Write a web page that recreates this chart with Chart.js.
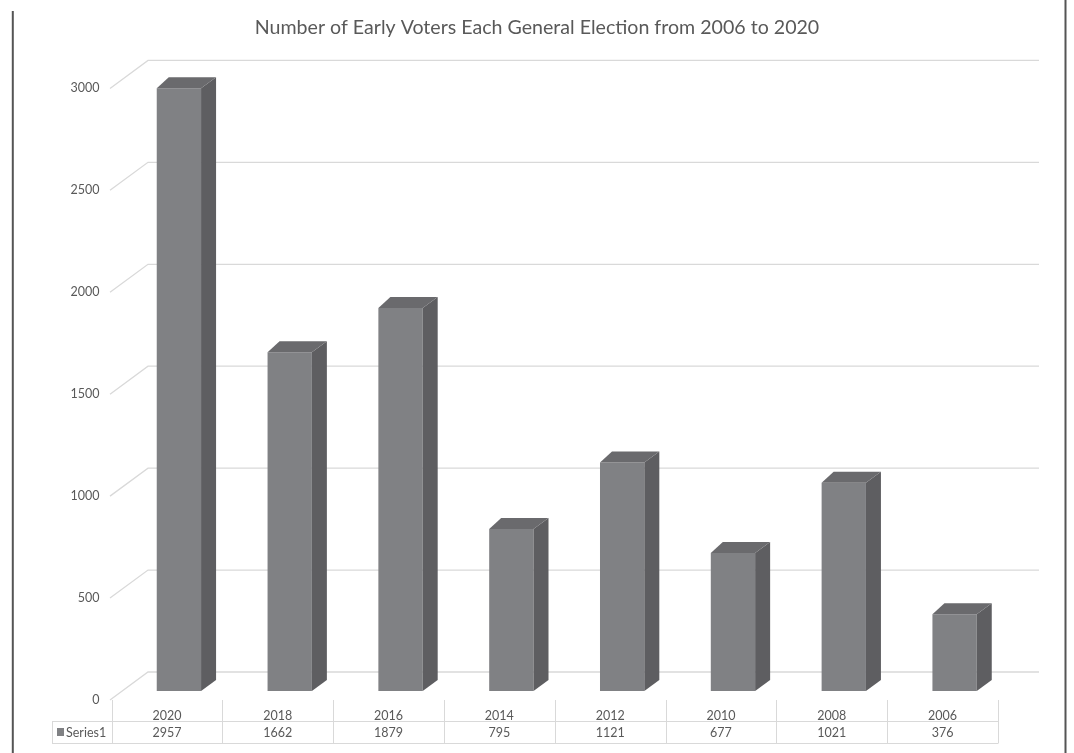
<!DOCTYPE html>
<html>
<head>
<meta charset="utf-8">
<script src="https://cdn.jsdelivr.net/npm/chart.js@4/dist/chart.umd.min.js"></script>
<style>
  html, body { margin: 0; padding: 0; background: #ffffff; }
  #wrap { position: relative; width: 1074px; height: 753px; }
</style>
</head>
<body>
<div id="wrap"><canvas id="c"></canvas></div>
<script>
// ---- data ----
const chartTitle = 'Number of Early Voters Each General Election from 2006 to 2020';
const categories = ['2020', '2018', '2016', '2014', '2012', '2010', '2008', '2006'];
const seriesName = 'Series1';
const earlyVoters = [2957, 1662, 1879, 795, 1121, 677, 1021, 376];
const yMin = 0;
const yMax = 3000;
const yStep = 500;

// ---- styling ----
const FONT = 'Lato, "Open Sans", sans-serif';
const TEXT = '#595959';
const GRID = '#d9d9d9';
const FRONT = '#808184';
const SIDE = '#5e5e61';
const TOP = '#6a6a6d';
const TABLE_SHIFT = -12;   // table columns sit left of the bar fronts (3D perspective)

const threeD = {
  id: 'threeD',
  beforeDatasetsDraw(chart) {
    const { ctx, chartArea: a, scales: { y } } = chart;
    ctx.save();
    ctx.strokeStyle = GRID;
    ctx.lineWidth = 1.3;
    y.ticks.forEach(t => {
      const py = y.getPixelForValue(t.value);
      ctx.beginPath();
      ctx.moveTo(a.left - 13.5, py + 9);
      ctx.lineTo(a.left + 24.5, py - 19);
      ctx.lineTo(a.right + 29, py - 19);
      ctx.stroke();
    });
    ctx.restore();
  },
  afterDatasetsDraw(chart) {
    const { ctx } = chart;
    const meta = chart.getDatasetMeta(0);
    ctx.save();
    meta.data.forEach(bar => {
      const L = bar.x - bar.width / 2, R = bar.x + bar.width / 2;
      const top = bar.y, base = bar.base;
      ctx.fillStyle = SIDE;
      ctx.beginPath();
      ctx.moveTo(R, top);
      ctx.lineTo(R + 15, top - 11);
      ctx.lineTo(R + 15, base - 11);
      ctx.lineTo(R, base);
      ctx.closePath();
      ctx.fill();
      ctx.fillStyle = TOP;
      ctx.beginPath();
      ctx.moveTo(L, top);
      ctx.lineTo(L + 12, top - 11);
      ctx.lineTo(R + 15, top - 11);
      ctx.lineTo(R, top);
      ctx.closePath();
      ctx.fill();
    });
    ctx.restore();
  },
  afterDraw(chart) {
    const { ctx, chartArea: a, scales: { x } } = chart;
    const colW = (a.right - a.left) / categories.length;
    const tLeft = 52, tRight = a.right + TABLE_SHIFT;
    const rowMid = 721.5, rowBot = 743.5;
    ctx.save();
    ctx.strokeStyle = GRID;
    ctx.lineWidth = 1;
    ctx.beginPath();
    ctx.moveTo(tLeft, rowMid); ctx.lineTo(tRight, rowMid);
    ctx.moveTo(tLeft, rowBot); ctx.lineTo(tRight, rowBot);
    ctx.moveTo(tLeft + 0.5, rowMid); ctx.lineTo(tLeft + 0.5, rowBot);
    for (let i = 0; i <= categories.length; i++) {
      const bx = Math.round(x.getPixelForValue(0) - colW / 2 + TABLE_SHIFT + i * colW) + 0.5;
      ctx.moveTo(bx, 700); ctx.lineTo(bx, rowBot);
    }
    ctx.stroke();
    ctx.fillStyle = TEXT;
    ctx.font = '12.5px ' + FONT;
    ctx.textAlign = 'center';
    ctx.textBaseline = 'middle';
    earlyVoters.forEach((v, i) => {
      ctx.fillText(String(v), x.getPixelForValue(i) + TABLE_SHIFT, 733);
    });
    ctx.fillStyle = FRONT;
    ctx.fillRect(57, 728, 7, 8);
    ctx.fillStyle = TEXT;
    ctx.textAlign = 'left';
    ctx.fillText(seriesName, 66, 733);
    ctx.strokeStyle = '#555555';
    ctx.lineWidth = 2;
    ctx.beginPath();
    ctx.moveTo(12.8, 11); ctx.lineTo(12.8, 753);
    ctx.moveTo(1065.5, 0); ctx.lineTo(1065.5, 753);
    ctx.stroke();
    ctx.restore();
  }
};

new Chart(document.getElementById('c'), {
  type: 'bar',
  data: {
    labels: categories,
    datasets: [{
      label: seriesName,
      data: earlyVoters,
      backgroundColor: FRONT,
      borderWidth: 0,
      categoryPercentage: 1,
      barPercentage: 0.4
    }]
  },
  options: {
    responsive: true,
    maintainAspectRatio: false,
    animation: false,
    devicePixelRatio: 1,
    layout: { padding: 0 },
    plugins: {
      legend: { display: false },
      tooltip: { enabled: false },
      title: {
        display: true,
        text: chartTitle,
        color: TEXT,
        font: { family: FONT, size: 19.6, weight: 'normal' },
        padding: { top: 15.5, bottom: 40.4 }
      }
    },
    scales: {
      x: {
        grid: { display: false, drawTicks: false },
        border: { display: false },
        ticks: {
          color: TEXT,
          font: { family: FONT, size: 12.5 },
          padding: 17,
          labelOffset: TABLE_SHIFT,
          maxRotation: 0
        },
        afterFit(s) { s.height = 62; }
      },
      y: {
        min: yMin,
        max: yMax,
        grid: { display: false, drawTicks: false },
        border: { display: false },
        ticks: {
          stepSize: yStep,
          color: TEXT,
          font: { family: FONT, size: 12.5 },
          padding: 24,
          labelOffset: 9,
          callback: v => String(v)
        },
        afterFit(s) { s.width = 123.5; }
      },
      yRight: {
        position: 'right',
        min: yMin,
        max: yMax,
        grid: { display: false, drawTicks: false },
        border: { display: false },
        ticks: { display: false },
        afterFit(s) { s.width = 64; }
      }
    }
  },
  plugins: [threeD]
});
</script>
</body>
</html>
